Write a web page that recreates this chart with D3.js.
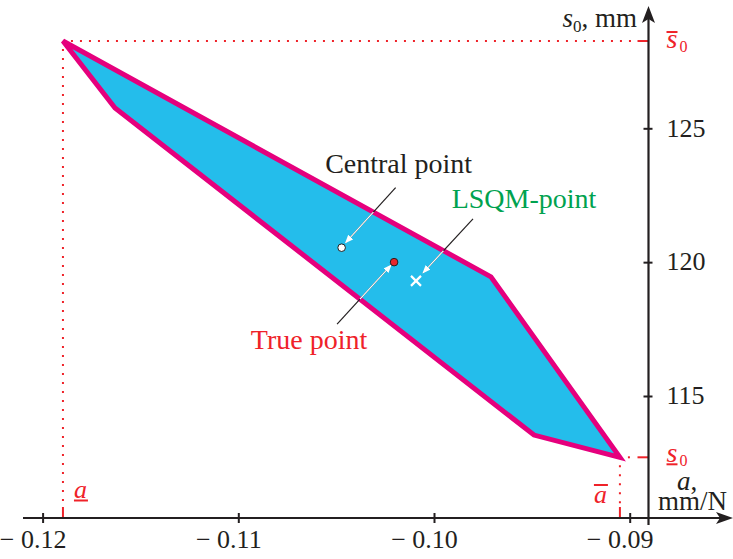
<!DOCTYPE html>
<html>
<head>
<meta charset="utf-8">
<script src="https://cdn.jsdelivr.net/npm/d3@7"></script>
<style>
  body { margin: 0; background: #fff; }
  svg { display: block; font-family: "Liberation Serif", "Times New Roman", serif; }
</style>
</head>
<body>
<svg id="chart" width="733" height="559"></svg>
<script>
// tick values
const xTicks = [-0.12, -0.11, -0.10, -0.09];
const yTicks = [115, 120, 125];

// feasible set polygon (a, s0)
const regionA = [-0.11896, -0.1163, -0.09489, -0.0905, -0.09709];
const regionS = [128.26, 125.76, 113.54, 112.71, 119.45];

// bounds of the set
const aLow = -0.11896, aHigh = -0.0905;
const sLow = 112.71, sHigh = 128.26;

// estimates
const pointNames = ["Central point", "True point", "LSQM-point"];
const pointA = [-0.10472, -0.10204, -0.10092];
const pointS = [120.54, 120.0, 119.30];

const svg = d3.select("#chart");

// scales
const x = d3.scaleLinear().domain([-0.12, -0.09]).range([42.6, 629.7]);
const y = d3.scaleLinear().domain([115, 125]).range([396, 128.3]);

const axisY = 518;   // pixel row of the a axis
const axisX = 648.5; // pixel column of the s0 axis
const ink = "#231f20";
const red = "#ef2229";

// region
const poly = regionA.map((a, i) => [x(a), y(regionS[i])]);
svg.append("defs").append("clipPath").attr("id", "inside")
    .append("polygon").attr("points", poly.join(" "));

svg.select("defs").append("marker")
    .attr("id", "head").attr("viewBox", "0 0 10 10")
    .attr("refX", 9).attr("refY", 5)
    .attr("markerWidth", 7).attr("markerHeight", 7)
    .attr("orient", "auto")
    .append("path").attr("d", "M0,1 L10,5 L0,9 Z").attr("fill", "#fff");

// red dotted bound lines
const dotted = svg.append("g").attr("stroke", red).attr("stroke-width", 2);
function boundLine(x1, y1, x2, y2) {
    const len = Math.hypot(x2 - x1, y2 - y1);
    const ux = (x2 - x1) / len, uy = (y2 - y1) / len;
    dotted.append("line")
        .attr("x1", x1 + ux * 8).attr("y1", y1 + uy * 8)
        .attr("x2", x2 - ux * 13).attr("y2", y2 - uy * 13)
        .attr("stroke-dasharray", "2 7");
    dotted.append("line")
        .attr("x1", x2 - ux * 11).attr("y1", y2 - uy * 11)
        .attr("x2", x2).attr("y2", y2);
}
boundLine(x(aLow), y(sHigh), axisX, y(sHigh));
boundLine(x(aLow), y(sHigh), x(aLow), axisY);
boundLine(x(aHigh), y(sLow), axisX, y(sLow));
boundLine(x(aHigh), y(sLow), x(aHigh), axisY);

svg.append("polygon")
    .attr("points", poly.join(" "))
    .attr("fill", "#24bdeb")
    .attr("stroke", "#e5007d")
    .attr("stroke-width", 5)
    .attr("stroke-linejoin", "miter");

// axes
const gx = svg.append("g").attr("transform", `translate(0,${axisY})`)
    .call(d3.axisBottom(x).tickValues(xTicks).tickSizeOuter(0).tickSize(5)
        .tickFormat(d => "\u2212 " + Math.abs(d).toFixed(2)));
gx.select(".domain").remove();
gx.selectAll(".tick line").attr("y1", -5).attr("y2", 5).attr("stroke", ink).attr("stroke-width", 2);
gx.selectAll(".tick text").attr("y", 30).attr("dy", 0).attr("dx", -10).attr("font-size", 26)
    .attr("font-family", "Liberation Serif").attr("fill", ink);

const gy = svg.append("g").attr("transform", `translate(${axisX},0)`)
    .call(d3.axisRight(y).tickValues(yTicks).tickSizeOuter(0).tickSize(5));
gy.select(".domain").remove();
gy.selectAll(".tick line").attr("x1", -5).attr("x2", 4).attr("stroke", ink).attr("stroke-width", 2);
gy.selectAll(".tick text").attr("x", 18).attr("dy", "0.3em").attr("font-size", 26)
    .attr("font-family", "Liberation Serif").attr("fill", ink);

svg.append("line").attr("x1", 23).attr("x2", 722).attr("y1", axisY).attr("y2", axisY)
    .attr("stroke", ink).attr("stroke-width", 2.2);
svg.append("path").attr("d", `M733,${axisY} L716,${axisY - 6} L720,${axisY} L716,${axisY + 6} Z`).attr("fill", ink);
svg.append("line").attr("x1", axisX).attr("x2", axisX).attr("y1", 525).attr("y2", 18)
    .attr("stroke", ink).attr("stroke-width", 2.2);
svg.append("path").attr("d", `M${axisX},6 L${axisX - 6.5},23 L${axisX},19 L${axisX + 6.5},23 Z`).attr("fill", ink);

// axis titles
const t1 = svg.append("text").attr("x", 637).attr("y", 27).attr("text-anchor", "end")
    .attr("font-size", 27).attr("fill", ink);
t1.append("tspan").attr("font-style", "italic").text("s");
t1.append("tspan").attr("font-size", 17).attr("dy", 5).text("0");
t1.append("tspan").attr("dy", -5).text(", mm");

svg.append("text").attr("x", 677).attr("y", 490).attr("font-size", 27).attr("fill", ink)
    .html('<tspan font-style="italic">a</tspan>,');
svg.append("text").attr("x", 727).attr("y", 510).attr("text-anchor", "end")
    .attr("font-size", 27).attr("fill", ink).text("mm/N");

// bound labels
function sLabel(xp, yb, over) {
    const t = svg.append("text").attr("x", xp).attr("y", yb).attr("font-size", 28).attr("fill", red);
    t.append("tspan").attr("font-style", "italic").text("s");
    t.append("tspan").attr("font-size", 16).attr("dy", 4).attr("dx", 2).text("0");
    svg.append("line").attr("x1", xp).attr("x2", xp + 11)
        .attr("y1", over ? yb - 16 : yb + 2).attr("y2", over ? yb - 16 : yb + 2)
        .attr("stroke", red).attr("stroke-width", 2);
}
sLabel(axisX + 18, y(sHigh) + 7, true);
sLabel(axisX + 18, y(sLow) + 5, false);

function aLabel(xp, yb, over) {
    svg.append("text").attr("x", xp).attr("y", yb).attr("font-size", 26)
        .attr("font-style", "italic").attr("fill", red).text("a");
    svg.append("line").attr("x1", xp).attr("x2", xp + 14)
        .attr("y1", over ? yb - 18 : yb + 2.5).attr("y2", over ? yb - 18 : yb + 2.5)
        .attr("stroke", red).attr("stroke-width", 2);
}
aLabel(x(aLow) + 11, axisY - 20, false);
aLabel(x(aHigh) - 26, axisY - 15, true);

// annotations: label offset, arrow tip offset, tail offset (px from point)
const notes = [
    { color: ink, lab: [57, -75], tip: [4, -5], tail: [54, -60] },
    { color: red, lab: [-85, 87], tip: [-3, 3], tail: [-57, 62] },
    { color: "#00a24f", lab: [108, -73], tip: [7, -8], tail: [57, -62] }
];

pointNames.forEach((name, i) => {
    const px = x(pointA[i]), py = y(pointS[i]), n = notes[i];
    const l = [px + n.tail[0], py + n.tail[1], px + n.tip[0], py + n.tip[1]];
    svg.append("line").attr("x1", l[0]).attr("y1", l[1]).attr("x2", l[2]).attr("y2", l[3])
        .attr("stroke", ink).attr("stroke-width", 1.2);
    svg.append("line").attr("x1", l[0]).attr("y1", l[1]).attr("x2", l[2]).attr("y2", l[3])
        .attr("stroke", "#fff").attr("stroke-width", 1.2)
        .attr("clip-path", "url(#inside)").attr("marker-end", "url(#head)");
    svg.append("text").attr("x", px + n.lab[0]).attr("y", py + n.lab[1])
        .attr("text-anchor", "middle").attr("font-size", 28).attr("fill", n.color).text(name);
});

// markers
svg.append("circle").attr("cx", x(pointA[0])).attr("cy", y(pointS[0])).attr("r", 3.8)
    .attr("fill", "#fff").attr("stroke", ink).attr("stroke-width", 1);
svg.append("circle").attr("cx", x(pointA[1])).attr("cy", y(pointS[1])).attr("r", 3.8)
    .attr("fill", "#e8262b").attr("stroke", ink).attr("stroke-width", 1);
const lx = x(pointA[2]), ly = y(pointS[2]);
svg.append("path").attr("d", `M${lx - 5},${ly - 5}L${lx + 5},${ly + 5}M${lx - 5},${ly + 5}L${lx + 5},${ly - 5}`)
    .attr("stroke", "#fff").attr("stroke-width", 2.2);
</script>
</body>
</html>
